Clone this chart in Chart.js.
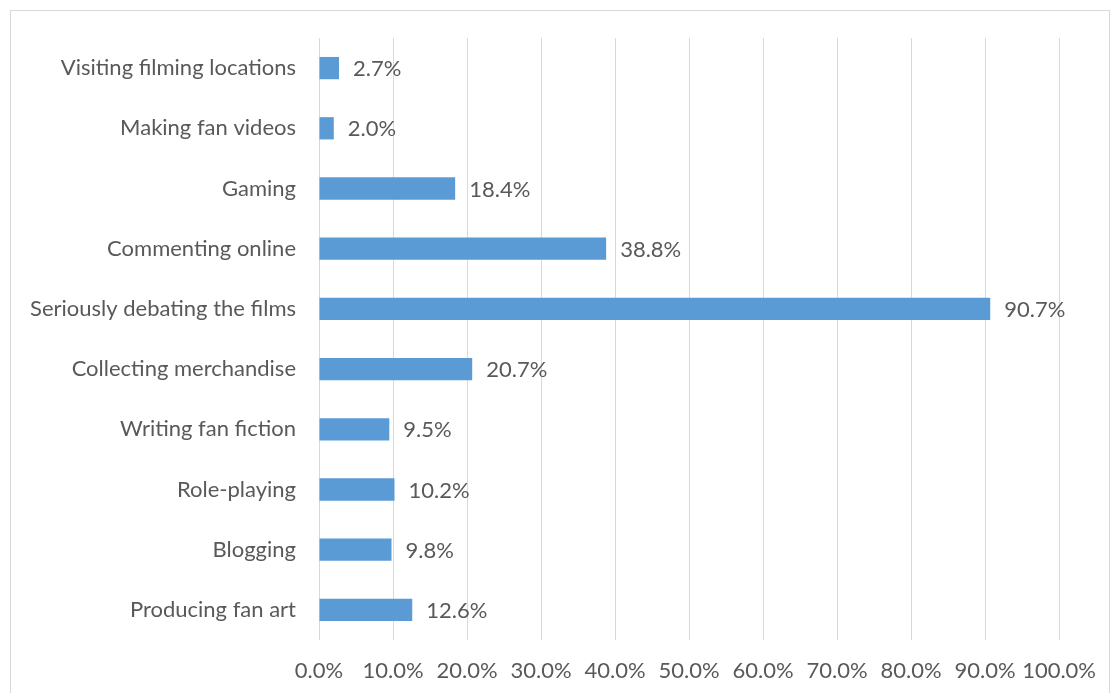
<!DOCTYPE html>
<html>
<head>
<meta charset="utf-8">
<script src="https://cdn.jsdelivr.net/npm/chart.js@4"></script>
<style>
  html, body { margin: 0; padding: 0; background: #fff; }
  #wrap { position: relative; width: 1114px; height: 693px; overflow: hidden; }
  #frame { position: absolute; left: 10px; top: 10px; width: 1100px; height: 700px; border: 1px solid #d9d9d9; box-sizing: border-box; }
  canvas { position: absolute; left: 0; top: 0; }
</style>
</head>
<body>
<div id="wrap">
  <div id="frame"></div>
  <canvas id="chart" width="1114" height="693"></canvas>
</div>
<script>
'use strict';

const categories = [
    'Visiting filming locations',
    'Making fan videos',
    'Gaming',
    'Commenting online',
    'Seriously debating the films',
    'Collecting merchandise',
    'Writing fan fiction',
    'Role-playing',
    'Blogging',
    'Producing fan art'
];
const shares = [2.7, 2.0, 18.4, 38.8, 90.7, 20.7, 9.5, 10.2, 9.8, 12.6];
const xTicks = [0, 10, 20, 30, 40, 50, 60, 70, 80, 90, 100];

const FONT = 'Lato, "Open Sans", sans-serif';
const TEXT = '#595959';
const SIZE = 22;

// Value labels at the end of each bar
const barLabels = {
    id: 'barLabels',
    afterDatasetsDraw(chart) {
        const ctx = chart.ctx;
        const meta = chart.getDatasetMeta(0);
        ctx.save();
        ctx.font = SIZE + 'px ' + FONT;
        ctx.fillStyle = TEXT;
        ctx.textBaseline = 'middle';
        ctx.textAlign = 'left';
        meta.data.forEach((bar, i) => {
            ctx.fillText(shares[i].toFixed(1) + '%', bar.x + 14, bar.y + 1);
        });
        ctx.restore();
    }
};

new Chart(document.getElementById('chart').getContext('2d'), {
    type: 'bar',
    data: {
        labels: categories,
        datasets: [{
            data: shares,
            backgroundColor: '#5b9bd5',
            borderWidth: 0,
            barPercentage: 0.37,
            categoryPercentage: 1
        }]
    },
    plugins: [barLabels],
    options: {
        indexAxis: 'y',
        responsive: false,
        animation: false,
        devicePixelRatio: 1,
        layout: { padding: { top: 38, right: 53, left: 0, bottom: 0 } },
        plugins: {
            legend: { display: false },
            tooltip: { enabled: false }
        },
        scales: {
            x: {
                min: 0,
                max: 100,
                afterBuildTicks(scale) {
                    scale.ticks = xTicks.map(v => ({ value: v }));
                },
                afterFit(scale) { scale.height = 53; },
                grid: { color: '#d9d9d9', lineWidth: 1, drawTicks: false },
                border: { display: false },
                ticks: {
                    color: TEXT,
                    padding: 18,
                    maxRotation: 0,
                    autoSkip: false,
                    font: { size: SIZE, family: FONT },
                    callback: v => v.toFixed(1) + '%'
                }
            },
            y: {
                afterFit(scale) { scale.width = 319; },
                grid: { display: false, drawTicks: false },
                border: { display: false },
                ticks: {
                    color: TEXT,
                    padding: 23,
                    font: { size: SIZE, family: FONT }
                }
            }
        }
    }
});
</script>
</body>
</html>
